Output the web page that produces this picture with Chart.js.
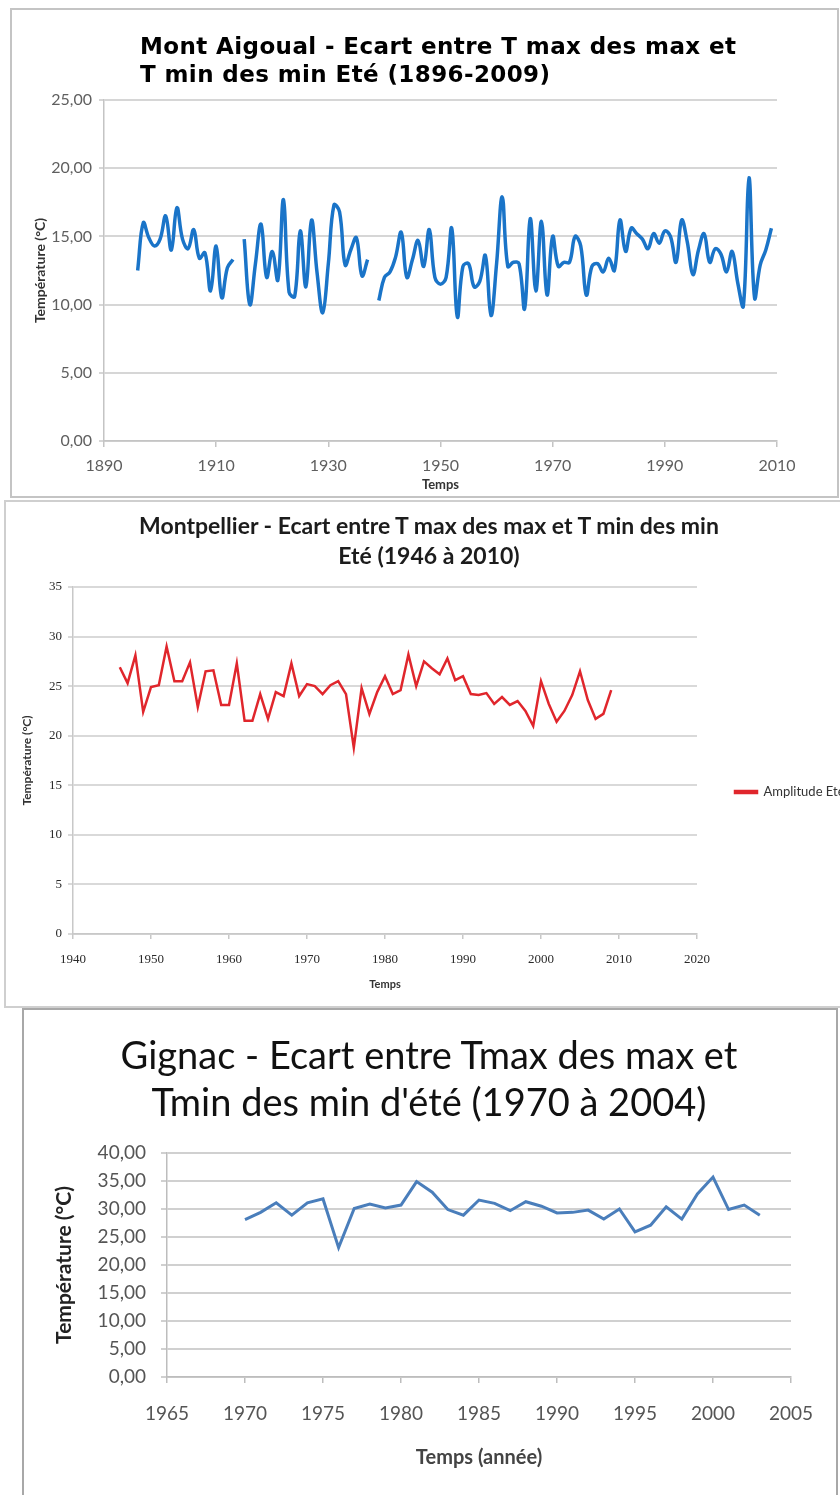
<!DOCTYPE html>
<html>
<head>
<meta charset="utf-8">
<script src="https://cdn.jsdelivr.net/npm/chart.js@4.4.1/dist/chart.umd.min.js"></script>
<style>
  body { margin: 0; background: #fff; overflow: hidden; }
  #page { position: relative; width: 840px; height: 1495px; overflow: hidden; background: #fff; }
  canvas { position: absolute; left: 0; }
  .frame { position: absolute; box-sizing: border-box; }
  .title { position: absolute; white-space: nowrap; }
</style>
</head>
<body>
<div id="page">
  <div class="frame" style="left:10px;top:8px;width:829px;height:490px;border:2px solid #c4c4c4;"></div>
  <div class="frame" style="left:4px;top:500px;width:860px;height:508px;border:2px solid #cfcfcf;border-right:none;"></div>
  <div class="frame" style="left:22px;top:1008px;width:816px;height:500px;border:2px solid #a8a8a8;"></div>

  <canvas id="aigoualChart" width="840" height="497" style="top:0px"></canvas>
  <canvas id="montpellierChart" width="840" height="507" style="top:500px"></canvas>
  <canvas id="gignacChart" width="840" height="487" style="top:1008px"></canvas>

  <div class="title" style="left:140px;top:32px;font:bold 23px 'DejaVu Sans';letter-spacing:0.4px;line-height:28px;color:#000;">
    Mont Aigoual - Ecart entre T max des max et<br>T min des min Eté (1896-2009)
  </div>
  <div class="title" style="left:0;width:858px;text-align:center;top:510px;font:bold 23px Lato;line-height:30px;color:#1c1c1c;">
    Montpellier - Ecart entre T max des max et T min des min<br>Eté (1946 à 2010)
  </div>
  <div class="title" style="left:0;width:858px;text-align:center;top:1031px;font:38px Lato;line-height:47px;color:#111;">
    Gignac - Ecart entre Tmax des max et<br>Tmin des min d'été (1970 à 2004)
  </div>
</div>

<script>
// Mont Aigoual (1896-2009), trous en 1914 et 1938
const aigoualYears = [
  1896, 1897, 1898, 1899, 1900, 1901, 1902, 1903, 1904, 1905,
  1906, 1907, 1908, 1909, 1910, 1911, 1912, 1913, 1914, 1915,
  1916, 1917, 1918, 1919, 1920, 1921, 1922, 1923, 1924, 1925,
  1926, 1927, 1928, 1929, 1930, 1931, 1932, 1933, 1934, 1935,
  1936, 1937, 1938, 1939, 1940, 1941, 1942, 1943, 1944, 1945,
  1946, 1947, 1948, 1949, 1950, 1951, 1952, 1953, 1954, 1955,
  1956, 1957, 1958, 1959, 1960, 1961, 1962, 1963, 1964, 1965,
  1966, 1967, 1968, 1969, 1970, 1971, 1972, 1973, 1974, 1975,
  1976, 1977, 1978, 1979, 1980, 1981, 1982, 1983, 1984, 1985,
  1986, 1987, 1988, 1989, 1990, 1991, 1992, 1993, 1994, 1995,
  1996, 1997, 1998, 1999, 2000, 2001, 2002, 2003, 2004, 2005,
  2006, 2007, 2008, 2009,
];
const aigoualValues = [
  12.5, 16.0, 14.9, 14.3, 14.8, 16.5, 14.0, 17.1, 14.8, 14.1,
  15.5, 13.4, 13.8, 11.0, 14.3, 10.5, 12.7, 13.3, null, 14.8,
  10.0, 13.0, 15.9, 12.0, 13.9, 11.8, 17.7, 10.9, 10.6, 15.4,
  11.3, 16.2, 12.3, 9.4, 13.0, 17.3, 16.8, 12.9, 14.0, 14.9,
  12.1, 13.3, null, 10.3, 12.0, 12.4, 13.5, 15.3, 12.0, 13.3,
  14.7, 12.8, 15.5, 12.0, 11.5, 12.0, 15.6, 9.1, 12.8, 13.0,
  11.3, 11.7, 13.6, 9.2, 13.0, 17.9, 12.8, 13.1, 13.0, 9.7,
  16.3, 11.0, 16.1, 10.7, 15.0, 12.8, 13.1, 13.1, 15.0, 14.3,
  10.7, 12.8, 13.0, 12.4, 13.4, 12.5, 16.2, 13.9, 15.6, 15.2,
  14.8, 14.1, 15.2, 14.5, 15.4, 15.0, 13.1, 16.2, 14.6, 12.2,
  14.0, 15.2, 13.1, 14.1, 13.7, 12.4, 13.9, 11.6, 9.9, 19.3,
  10.5, 12.9, 14.0, 15.6,
];

// Montpellier (1946-2009)
const montpellierYears = [
  1946, 1947, 1948, 1949, 1950, 1951, 1952, 1953, 1954, 1955,
  1956, 1957, 1958, 1959, 1960, 1961, 1962, 1963, 1964, 1965,
  1966, 1967, 1968, 1969, 1970, 1971, 1972, 1973, 1974, 1975,
  1976, 1977, 1978, 1979, 1980, 1981, 1982, 1983, 1984, 1985,
  1986, 1987, 1988, 1989, 1990, 1991, 1992, 1993, 1994, 1995,
  1996, 1997, 1998, 1999, 2000, 2001, 2002, 2003, 2004, 2005,
  2006, 2007, 2008, 2009,
];
const montpellierValues = [
  26.9, 25.3, 28.1, 22.4, 24.9, 25.1, 29.0, 25.5, 25.5, 27.4,
  22.9, 26.5, 26.6, 23.1, 23.1, 27.3, 21.5, 21.5, 24.2, 21.7,
  24.4, 24.0, 27.3, 24.0, 25.2, 25.0, 24.2, 25.1, 25.5, 24.2,
  18.8, 24.8, 22.2, 24.4, 26.0, 24.2, 24.6, 28.2, 25.0, 27.5,
  26.8, 26.2, 27.8, 25.6, 26.0, 24.2, 24.1, 24.3, 23.2, 23.9,
  23.1, 23.5, 22.5, 21.0, 25.5, 23.2, 21.4, 22.5, 24.1, 26.5,
  23.6, 21.7, 22.2, 24.6,
];

// Gignac (1970-2003)
const gignacYears = [
  1970, 1971, 1972, 1973, 1974, 1975, 1976, 1977, 1978, 1979,
  1980, 1981, 1982, 1983, 1984, 1985, 1986, 1987, 1988, 1989,
  1990, 1991, 1992, 1993, 1994, 1995, 1996, 1997, 1998, 1999,
  2000, 2001, 2002, 2003,
];
const gignacValues = [
  28.1, 29.4, 31.1, 28.9, 31.1, 31.8, 23.1, 30.1, 30.9, 30.2,
  30.7, 34.9, 33.0, 29.9, 28.9, 31.6, 31.0, 29.7, 31.3, 30.5,
  29.3, 29.4, 29.8, 28.2, 30.0, 25.9, 27.1, 30.4, 28.2, 32.7,
  35.7, 29.9, 30.7, 28.9,
];

function toPoints(years, values) {
  return years.map((y, i) => ({ x: y, y: values[i] }));
}

const comma2 = (v) => v.toFixed(2).replace(".", ",");
const plain = (v) => String(v);

// --- Mont Aigoual ---
new Chart(document.getElementById("aigoualChart"), {
  type: "line",
  data: {
    datasets: [
      {
        label: "Mont Aigoual",
        data: toPoints(aigoualYears, aigoualValues),
        borderColor: "#1a74c8",
        borderWidth: 3.5,
        pointRadius: 0,
        tension: 0.4,
        spanGaps: false,
      },
    ],
  },
  options: {
    responsive: false,
    animation: false,
    layout: { padding: { left: 0, top: 100, right: 63, bottom: 4 } },
    plugins: { legend: { display: false }, tooltip: { enabled: false } },
    scales: {
      x: {
        type: "linear",
        min: 1890,
        max: 2010,
        afterFit: (s) => { s.height = 52; },
        ticks: { stepSize: 20, callback: plain, color: "#5f5f5f", font: { family: "Lato", size: 16 }, padding: 9, maxRotation: 0 },
        grid: { drawOnChartArea: false, drawTicks: true, tickLength: 6, color: "#c4c4c4", lineWidth: 1.5 },
        border: { color: "#c4c4c4", width: 1.5 },
        title: { display: true, text: "Temps", color: "#333", font: { family: "Lato", size: 13, weight: "bold" }, padding: { top: 0, bottom: 0 } },
      },
      y: {
        min: 0,
        max: 25,
        afterFit: (s) => { s.width = 104; },
        ticks: { stepSize: 5, callback: comma2, color: "#5f5f5f", font: { family: "Lato", size: 16 }, padding: 7 },
        grid: { color: "#d6d6d6", lineWidth: 2, tickLength: 5 },
        border: { color: "#c4c4c4", width: 1.5 },
        title: { display: true, text: "Température (°C)", color: "#333", font: { family: "Lato", size: 14, weight: "bold" }, padding: { top: 32, bottom: 0 } },
      },
    },
  },
});

// --- Montpellier ---
new Chart(document.getElementById("montpellierChart"), {
  type: "line",
  data: {
    datasets: [
      {
        label: "Amplitude Eté",
        data: toPoints(montpellierYears, montpellierValues),
        borderColor: "#e0262c",
        backgroundColor: "#e0262c",
        borderWidth: 2.5,
        pointRadius: 0,
        tension: 0,
      },
    ],
  },
  options: {
    responsive: false,
    animation: false,
    layout: { padding: { left: 0, top: 87, right: 0, bottom: 10 } },
    plugins: {
      tooltip: { enabled: false },
      legend: {
        position: "right",
        align: "center",
        maxWidth: 143,
        labels: { boxWidth: 22, boxHeight: 2, padding: 38, color: "#333", font: { family: "Lato", size: 13 } },
      },
    },
    scales: {
      x: {
        type: "linear",
        min: 1940,
        max: 2020,
        afterFit: (s) => { s.height = 63; },
        ticks: { stepSize: 10, callback: plain, color: "#2a2a2a", font: { family: "Liberation Serif", size: 13 }, padding: 13, maxRotation: 0 },
        grid: { drawOnChartArea: false, drawTicks: true, tickLength: 5, color: "#c8c8c8", lineWidth: 1.5 },
        border: { color: "#c8c8c8", width: 1.5 },
        title: { display: true, text: "Temps", color: "#333", font: { family: "Lato", size: 11, weight: "bold" }, padding: { top: 0, bottom: 6 } },
      },
      y: {
        min: 0,
        max: 35,
        afterFit: (s) => { s.width = 73; },
        ticks: { stepSize: 5, callback: plain, color: "#2a2a2a", font: { family: "Liberation Serif", size: 13 }, padding: 6 },
        grid: { color: "#d9d9d9", lineWidth: 2, tickLength: 5 },
        border: { color: "#c8c8c8", width: 1.5 },
        title: { display: true, text: "Température (°C)", color: "#333", font: { family: "Lato", size: 12, weight: "bold" }, padding: { top: 20, bottom: 0 } },
      },
    },
  },
});

// --- Gignac ---
new Chart(document.getElementById("gignacChart"), {
  type: "line",
  data: {
    datasets: [
      {
        label: "Gignac",
        data: toPoints(gignacYears, gignacValues),
        borderColor: "#4a7ebb",
        borderWidth: 3,
        pointRadius: 0,
        tension: 0,
      },
    ],
  },
  options: {
    responsive: false,
    animation: false,
    layout: { padding: { left: 0, top: 145, right: 49, bottom: 0 } },
    plugins: { legend: { display: false }, tooltip: { enabled: false } },
    scales: {
      x: {
        type: "linear",
        min: 1965,
        max: 2005,
        afterFit: (s) => { s.height = 118; },
        ticks: { stepSize: 5, callback: plain, color: "#555", font: { family: "Lato", size: 19 }, padding: 19, maxRotation: 0 },
        grid: { drawOnChartArea: false, drawTicks: true, tickLength: 6, color: "#bdbdbd", lineWidth: 1.5 },
        border: { color: "#bdbdbd", width: 1.5 },
        title: { display: true, text: "Temps (année)", color: "#444", font: { family: "Lato", size: 20, weight: "bold" }, padding: { top: 0, bottom: 25 } },
      },
      y: {
        min: 0,
        max: 40,
        afterFit: (s) => { s.width = 167; },
        ticks: { stepSize: 5, callback: comma2, color: "#555", font: { family: "Lato", size: 19 }, padding: 15 },
        grid: { color: "#d0d0d0", lineWidth: 2, tickLength: 6 },
        border: { color: "#bdbdbd", width: 1.5 },
        title: { display: true, text: "Température (°C)", color: "#222", font: { family: "Lato", size: 21, weight: "bold" }, padding: { top: 52, bottom: 0 } },
      },
    },
  },
});
</script>
</body>
</html>
